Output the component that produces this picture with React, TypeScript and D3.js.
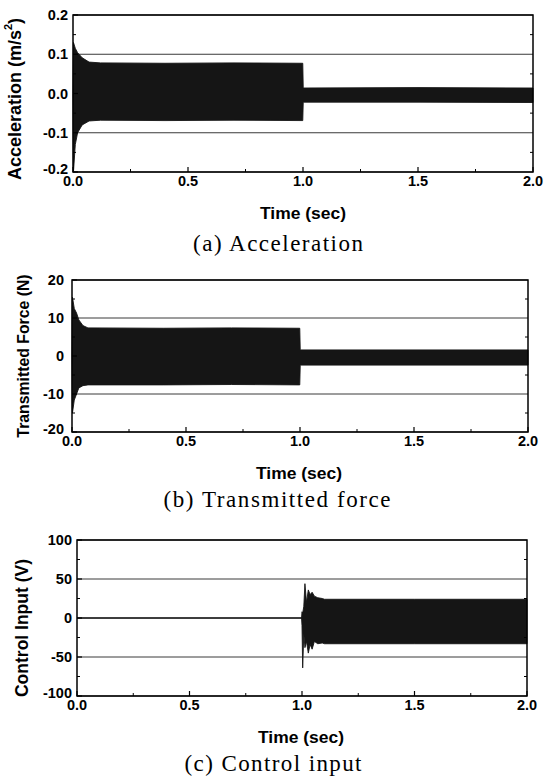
import React from "react";
import * as d3 from "d3";

// ---------- data ----------
const timeTicks = [0, 0.5, 1.0, 1.5, 2.0];
const timeTickLabels = ["0.0", "0.5", "1.0", "1.5", "2.0"];
const timeMinorTicks = [0.25, 0.75, 1.25, 1.75];

const accTicks = [-0.2, -0.1, 0, 0.1, 0.2];
const accTickLabels = ["-0.2", "-0.1", "0.0", "0.1", "0.2"];
const accMinorTicks = [-0.15, -0.05, 0.05, 0.15];

const forceTicks = [-20, -10, 0, 10, 20];
const forceTickLabels = ["-20", "-10", "0", "10", "20"];
const forceMinorTicks = [-15, -5, 5, 15];

const controlTicks = [-100, -50, 0, 50, 100];
const controlTickLabels = ["-100", "-50", "0", "50", "100"];
const controlMinorTicks = [-75, -25, 25, 75];

// envelopes of the dense oscillation (upper / lower bounds)
const accTime = [0, 0.002, 0.01, 0.02, 0.04, 0.07, 0.12, 0.4, 0.7, 0.999, 1.001, 1.5, 2.0];
const accUpper = [0, 0.13, 0.115, 0.104, 0.091, 0.08, 0.078, 0.077, 0.078, 0.077, 0.014, 0.015, 0.014];
const accLower = [0, -0.2, -0.13, -0.1, -0.08, -0.07, -0.068, -0.069, -0.068, -0.069, -0.022, -0.022, -0.023];

const forceTime = [0, 0.002, 0.01, 0.02, 0.03, 0.048, 0.07, 0.4, 0.7, 0.999, 1.001, 1.5, 2.0];
const forceUpper = [0, 15.5, 12.5, 11.3, 9.5, 8.0, 7.4, 7.3, 7.4, 7.3, 1.6, 1.6, 1.6];
const forceLower = [0, -15, -11.6, -10, -8.4, -7.8, -7.6, -7.6, -7.5, -7.6, -2.4, -2.4, -2.4];

const controlTime = [0, 0.998, 1.0, 1.003, 1.008, 1.013, 1.02, 1.028, 1.036, 1.045, 1.055, 1.07, 1.09, 1.1, 1.5, 2.0];
const controlUpper = [0, 0, 8, 6, 15, 44, 20, 36, 30, 33, 28, 26, 25, 24, 24, 24];
const controlLower = [0, 0, -10, -64, -20, -38, -30, -45, -34, -40, -30, -33, -32, -33, -33, -33];

// ---------- drawing ----------
type Box = { l: number; r: number; t: number; b: number };

function Panel(props: {
  box: Box;
  yDomain: [number, number];
  yTicks: number[];
  yTickLabels: string[];
  yMinor: number[];
  tickLabelGap: number;
  time: number[];
  upper: number[];
  lower: number[];
  yLabel: React.ReactNode;
  yLabelX: number;
  yLabelY: number;
  timeX: number;
  caption: string;
  captionX: number;
  captionY: number;
  captionLen: number;
}) {
  const { box } = props;
  const x = d3.scaleLinear().domain([0, 2]).range([box.l, box.r]);
  const y = d3.scaleLinear().domain(props.yDomain).range([box.b, box.t]);
  const rows = props.time.map((t, i) => ({ t, u: props.upper[i], lo: props.lower[i] }));
  const area = d3
    .area<{ t: number; u: number; lo: number }>()
    .x((d) => x(d.t))
    .y0((d) => y(d.lo))
    .y1((d) => y(d.u));
  const tickFont = { fontFamily: "'Liberation Sans', Arial, sans-serif", fontWeight: 700 as const };
  return (
    <g>
      {props.yTicks.map((v) => (
        <line key={"g" + v} x1={box.l} x2={box.r} y1={y(v)} y2={y(v)} stroke="#3a3a3a" strokeWidth={1} />
      ))}
      <path d={area(rows) || ""} fill="#151515" stroke="#151515" strokeWidth={0.9} />
      <rect x={box.l} y={box.t} width={box.r - box.l} height={box.b - box.t} fill="none" stroke="#000" strokeWidth={1.5} />
      {timeTicks.map((t) => (
        <line key={"xt" + t} x1={x(t)} x2={x(t)} y1={box.b} y2={box.b - 5} stroke="#000" strokeWidth={1.2} />
      ))}
      {timeMinorTicks.map((t) => (
        <line key={"xm" + t} x1={x(t)} x2={x(t)} y1={box.b} y2={box.b - 3} stroke="#000" strokeWidth={1} />
      ))}
      {props.yTicks.map((v) => (
        <line key={"yt" + v} x1={box.l} x2={box.l + 5} y1={y(v)} y2={y(v)} stroke="#000" strokeWidth={1.2} />
      ))}
      {props.yMinor.map((v) => (
        <line key={"ym" + v} x1={box.l} x2={box.l + 3} y1={y(v)} y2={y(v)} stroke="#000" strokeWidth={1} />
      ))}
      {props.yMinor.map((v) => (
        <line key={"yr" + v} x1={box.r} x2={box.r - 3} y1={y(v)} y2={y(v)} stroke="#000" strokeWidth={1} />
      ))}
      {props.yTicks.map((v, i) => (
        <text
          key={"yl" + v}
          x={box.l - props.tickLabelGap}
          y={y(v) - (i === 0 ? 3 : 0)}
          textAnchor="end"
          dominantBaseline="central"
          fontSize={14.5}
          {...tickFont}
        >
          {props.yTickLabels[i]}
        </text>
      ))}
      {timeTicks.map((t, i) => (
        <text key={"xl" + t} x={x(t)} y={box.b + 9} textAnchor="middle" dominantBaseline="central" fontSize={14.5} {...tickFont}>
          {timeTickLabels[i]}
        </text>
      ))}
      <text
        x={props.timeX}
        y={box.b + 41}
        textAnchor="middle"
        dominantBaseline="central"
        fontSize={16}
        textLength={86}
        lengthAdjust="spacingAndGlyphs"
        {...tickFont}
      >
        Time (sec)
      </text>
      <text
        transform={`translate(${props.yLabelX},${props.yLabelY}) rotate(-90)`}
        textAnchor="middle"
        dominantBaseline="central"
        {...tickFont}
      >
        {props.yLabel}
      </text>
      <text
        x={props.captionX}
        y={props.captionY}
        textAnchor="middle"
        dominantBaseline="central"
        fontSize={23}
        fontFamily="'Liberation Serif', 'Times New Roman', serif"
        textLength={props.captionLen}
        lengthAdjust="spacing"
      >
        {props.caption}
      </text>
    </g>
  );
}

export default function App() {
  return (
    <svg
      width={552}
      height={780}
      viewBox="0 0 552 780"
      style={{ position: "absolute", left: 0, top: 0, background: "#fff" }}
    >
      <rect x={0} y={0} width={552} height={780} fill="#fff" />
      <Panel
        box={{ l: 73, r: 533, t: 15, b: 172 }}
        yDomain={[-0.2, 0.2]}
        yTicks={accTicks}
        yTickLabels={accTickLabels}
        yMinor={accMinorTicks}
        tickLabelGap={5}
        time={accTime}
        upper={accUpper}
        lower={accLower}
        yLabel={
          <tspan fontSize={18}>
            Acceleration (m/s
            <tspan fontSize={11} dy={-7}>2</tspan>
            <tspan dy={7}>)</tspan>
          </tspan>
        }
        yLabelX={15}
        yLabelY={99}
        timeX={303}
        caption="(a)  Acceleration"
        captionX={278}
        captionY={243}
        captionLen={170}
      />
      <Panel
        box={{ l: 72, r: 528, t: 280, b: 432 }}
        yDomain={[-20, 20]}
        yTicks={forceTicks}
        yTickLabels={forceTickLabels}
        yMinor={forceMinorTicks}
        tickLabelGap={8}
        time={forceTime}
        upper={forceUpper}
        lower={forceLower}
        yLabel={<tspan fontSize={15.8}>Transmitted Force (N)</tspan>}
        yLabelX={23}
        yLabelY={356}
        timeX={299}
        caption="(b)  Transmitted  force"
        captionX={277}
        captionY={499}
        captionLen={227}
      />
      <Panel
        box={{ l: 77, r: 527, t: 540, b: 696 }}
        yDomain={[-100, 100]}
        yTicks={controlTicks}
        yTickLabels={controlTickLabels}
        yMinor={controlMinorTicks}
        tickLabelGap={5}
        time={controlTime}
        upper={controlUpper}
        lower={controlLower}
        yLabel={<tspan fontSize={17.5}>Control Input (V)</tspan>}
        yLabelX={22}
        yLabelY={628}
        timeX={301}
        caption="(c)  Control  input"
        captionX={273}
        captionY={763}
        captionLen={177}
      />
    </svg>
  );
}
